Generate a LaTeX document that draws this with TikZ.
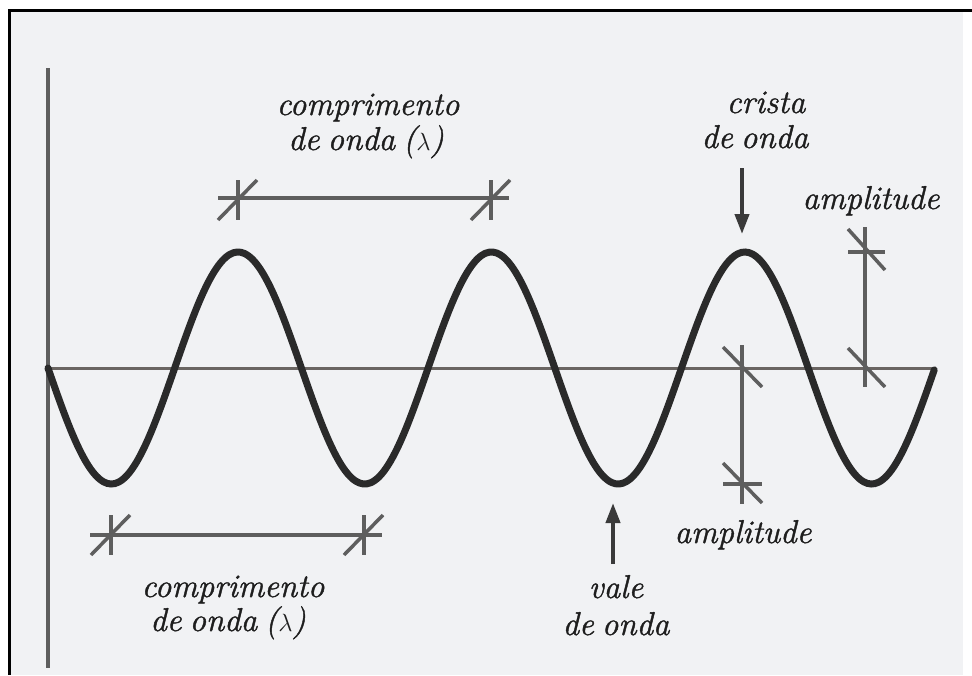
\documentclass[tikz,border=0pt]{standalone}
\usepackage{fontspec}
\newfontfamily\lblface{Latin Modern Roman}[ItalicFeatures={FakeBold=1.2}]
\usetikzlibrary{arrows.meta}
\definecolor{scanbg}{HTML}{F1F2F4}
\definecolor{wavec}{HTML}{2A2A2A}
\definecolor{axisc}{HTML}{6A6562}
\definecolor{dimc}{HTML}{5E5E5E}
\definecolor{txtc}{HTML}{1E1E1E}
\definecolor{arrc}{HTML}{3A3A3A}
\newcommand{\lblfnt}{\lblface\fontsize{33}{36}\selectfont\itshape\spaceskip=8pt plus 2pt minus 2pt\relax}
\begin{document}
\begin{tikzpicture}[x=1pt,y=-1pt,
  lbl/.style={anchor=base, text=txtc, inner sep=0pt, font=\lblfnt},
  dimline/.style={draw=dimc, line width=3.5pt},
  pointer/.style={draw=arrc, line width=4pt, -{Triangle[length=20pt,width=14pt]}}]
\useasboundingbox (0,0) rectangle (972,675);
% scan background and frame
\fill[white] (0,0) rectangle (972,675);
\fill[scanbg] (10,12) rectangle (963,675);
\draw[black, line width=3pt] (8,10) -- (972,10);
\draw[black, line width=3pt] (9,10) -- (9,675);
% axes
\coordinate (vtop) at (48,68);
\coordinate (vbot) at (48,668);
\coordinate (hleft) at (48,368);
\coordinate (hright) at (935,368);
\draw[draw=dimc, line width=4pt] (vtop) -- (vbot);
\draw[draw=axisc, line width=3pt] (hleft) -- (hright);
% wave
\draw[wavec, line width=7pt, line cap=round]
  plot[domain=0:3.5, samples=240, smooth] ({48+253.4*\x}, {368+116*sin(360*\x)});
% top wavelength dimension
\coordinate (tA) at (238,198);
\coordinate (tB) at (491,198);
\draw[dimline] ([xshift=-20pt]tA) -- ([xshift=18pt]tB);
\foreach \p in {tA,tB}{
  \draw[dimline] ([yshift=18pt]\p) -- ([yshift=-22pt]\p);
  \draw[dimline] ([xshift=-20pt,yshift=-22pt]\p) -- ([xshift=19pt,yshift=18pt]\p);
}
% bottom wavelength dimension
\coordinate (bA) at (111,535);
\coordinate (bB) at (364,535);
\draw[dimline] ([xshift=-21pt]bA) -- ([xshift=18pt]bB);
\foreach \p in {bA,bB}{
  \draw[dimline] ([yshift=20pt]\p) -- ([yshift=-20pt]\p);
  \draw[dimline] ([xshift=-20pt,yshift=-20pt]\p) -- ([xshift=19pt,yshift=20pt]\p);
}
% right amplitude (crest to axis)
\coordinate (rA) at (865,252);
\coordinate (rB) at (865,368);
\draw[dimline] ([yshift=25pt]rA) -- ([yshift=-19pt]rB);
\draw[dimline] ([xshift=-17pt]rA) -- ([xshift=20pt]rA);
\draw[dimline] ([xshift=-17pt,yshift=23pt]rA) -- ([xshift=20pt,yshift=-18pt]rA);
\draw[dimline] ([xshift=-17pt,yshift=20pt]rB) -- ([xshift=20pt,yshift=-19pt]rB);
% left amplitude (axis to trough)
\coordinate (lA) at (742,368);
\coordinate (lB) at (742,484);
\draw[dimline] ([yshift=23pt]lA) -- ([yshift=-20pt]lB);
\draw[dimline] ([xshift=-19pt,yshift=21pt]lA) -- ([xshift=20pt,yshift=-19pt]lA);
\draw[dimline] ([xshift=-19pt]lB) -- ([xshift=20pt]lB);
\draw[dimline] ([xshift=-19pt,yshift=21pt]lB) -- ([xshift=20pt,yshift=-19pt]lB);
% pointers
\coordinate (cTail) at (742,168);
\coordinate (cTip) at (742,234);
\draw[pointer] (cTail) -- (cTip);
\coordinate (vTail) at (613,564);
\coordinate (vTip) at (613,503);
\draw[pointer] (vTail) -- (vTip);
% labels
\node[lbl] (lamT1) at (368,115) {comprimento};
\node[lbl] (lamT2) at (366,150) {de onda (\ensuremath{\lambda})};
\node[lbl] (cri1) at (766,113) {crista};
\node[lbl] (cri2) at (755,148) {de onda};
\node[lbl] (ampT) at (871,209) {amplitude};
\node[lbl] (ampB) at (743,543) {amplitude};
\node[lbl] (lamB1) at (233,597) {comprimento};
\node[lbl] (lamB2) at (228,631) {de onda (\ensuremath{\lambda})};
\node[lbl] (val1) at (616,598) {vale};
\node[lbl] (val2) at (616,635) {de onda};
\end{tikzpicture}
\end{document}
